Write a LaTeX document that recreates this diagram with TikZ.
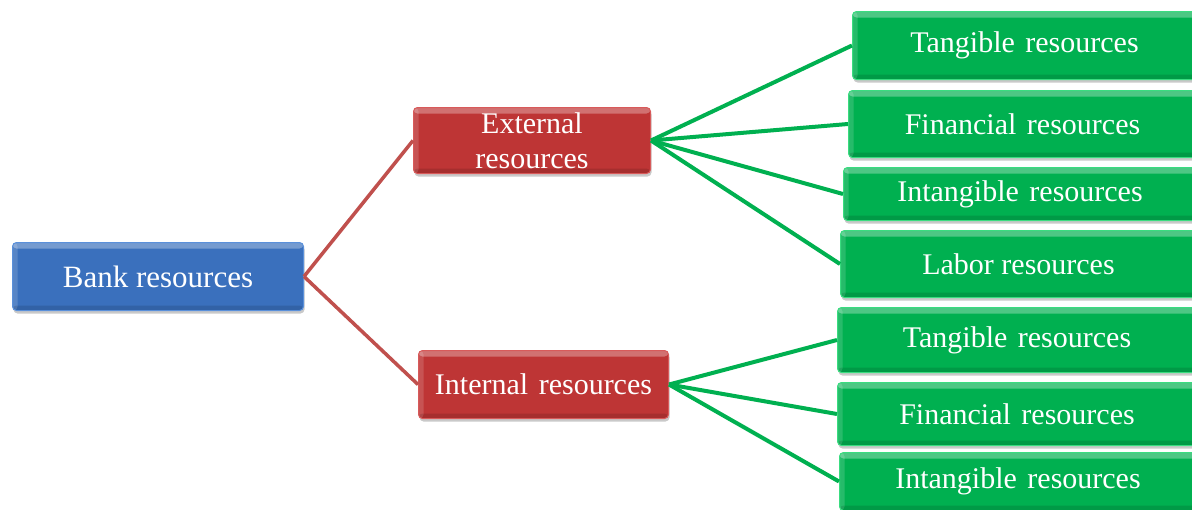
\documentclass[tikz,border=0pt]{standalone}
\usepackage{fontspec}
\setmainfont{Liberation Serif}
\usetikzlibrary{shadows}
\definecolor{bluebox}{HTML}{3A70BD}
\definecolor{bluetop}{HTML}{5A90DA}
\definecolor{redbox}{HTML}{BE3535}
\definecolor{redtop}{HTML}{D85A5A}
\definecolor{greenbox}{HTML}{00B050}
\definecolor{greentop}{HTML}{3ADC80}
\definecolor{redline}{HTML}{C0504D}
\definecolor{greenline}{HTML}{00B050}
\tikzset{
  basebox/.style={rectangle, rounded corners=4pt, anchor=north west, inner sep=0pt,
    text=white, align=center, font=\fontsize{30}{35}\selectfont,
    drop shadow={shadow xshift=1pt, shadow yshift=-3pt, opacity=0.35, fill=black!60},
    path picture={
      \fill[white,opacity=0.3] (path picture bounding box.north west) rectangle ([yshift=-6pt]path picture bounding box.north east);
      \fill[white,opacity=0.15] (path picture bounding box.north west) rectangle ([xshift=5pt]path picture bounding box.south west);
      \fill[black,opacity=0.12] ([yshift=5pt]path picture bounding box.south west) rectangle (path picture bounding box.south east);
    }},
  bluenode/.style={basebox, fill=bluebox, draw=bluetop, line width=1pt},
  rednode/.style={basebox, fill=redbox, draw=redtop, line width=1pt},
  greennode/.style={basebox, fill=greenbox, draw=greentop, line width=1pt},
  redconn/.style={draw=redline, line width=3.5pt},
  greenconn/.style={draw=greenline, line width=4pt},
}
\newcommand{\gap}{\hspace{0.35em}}
\begin{document}
\begin{tikzpicture}[x=1pt,y=-1pt]
\useasboundingbox (0,0) rectangle (1192,509);
\clip (0,0) rectangle (1192,509);
\fill[white] (0,0) rectangle (1192,509);
% nodes
\node[bluenode, minimum width=291pt, minimum height=68pt, font=\fontsize{31}{35}\selectfont] (bank) at (12,242) {Bank resources};
\node[rednode, minimum width=237pt, minimum height=66pt] (ext) at (413,107) {External\\resources};
\node[rednode, minimum width=250pt, minimum height=68pt] (int) at (418,350) {Internal\gap resources};
\node[greennode, minimum width=344pt, minimum height=68pt] (g1) at (852,11) {Tangible\gap resources};
\node[greennode, minimum width=348pt, minimum height=67pt] (g2) at (848,90) {Financial\gap resources};
\node[greennode, minimum width=353pt, minimum height=53pt] (g3) at (843,167) {Intangible\gap resources};
\node[greennode, minimum width=356pt, minimum height=67pt] (g4) at (840,230) {Labor resources};
\node[greennode, minimum width=359pt, minimum height=65pt] (g5) at (837,307) {Tangible\gap resources};
\node[greennode, minimum width=359pt, minimum height=63pt] (g6) at (837,382) {Financial\gap resources};
\node[greennode, minimum width=357pt, minimum height=58pt] (g7) at (839,452) {Intangible\gap resources};
% connectors
\draw[redconn] (bank.east) -- (ext.west);
\draw[redconn] (bank.east) -- (int.west);
\foreach \g in {g1,g2,g3,g4} \draw[greenconn] (ext.east) -- (\g.west);
\foreach \g in {g5,g6,g7} \draw[greenconn] (int.east) -- (\g.west);
\end{tikzpicture}
\end{document}
